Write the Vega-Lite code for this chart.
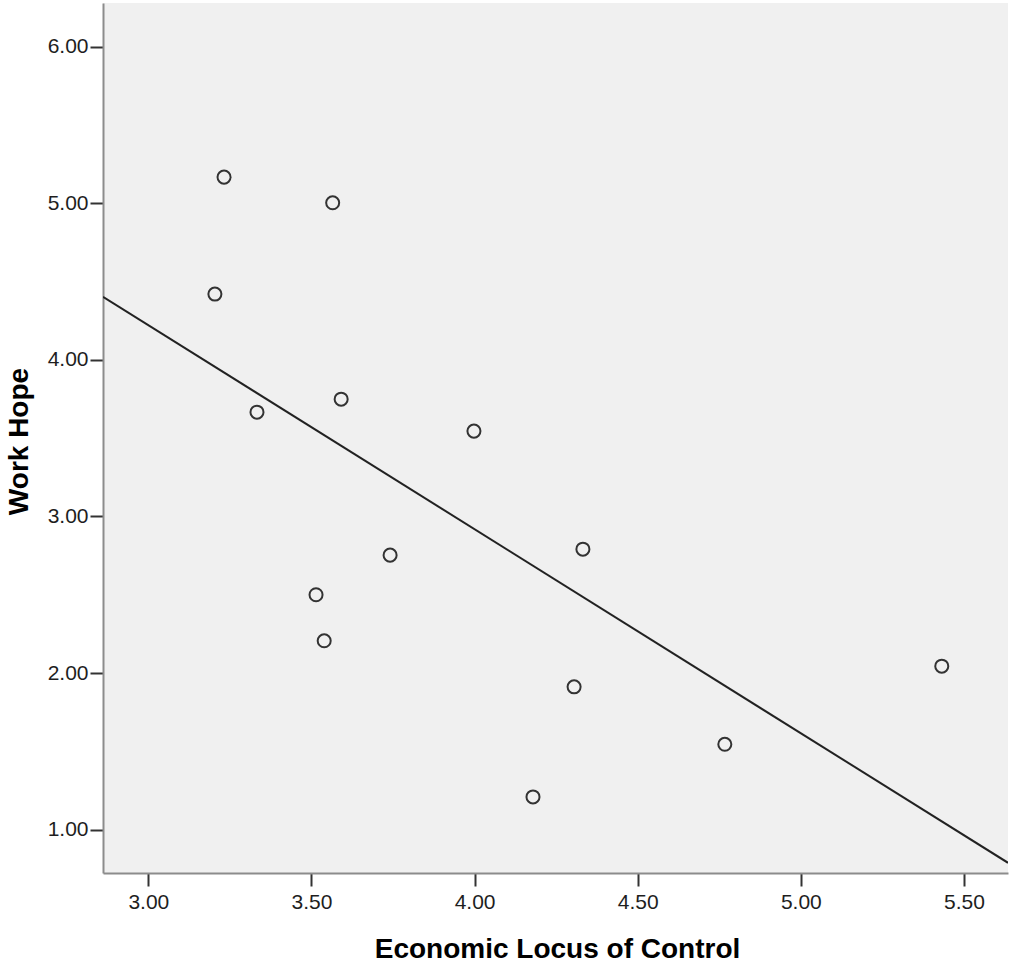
{
  "$schema": "https://vega.github.io/schema/vega-lite/v6.json",
  "autosize": "none",
  "width": 905,
  "height": 870,
  "padding": {"left": 103, "top": 3, "right": 2, "bottom": 93},
  "background": "#ffffff",
  "config": {
    "view": {"fill": "#f0f0f0", "stroke": null},
    "font": "Liberation Sans",
    "axis": {
      "grid": false,
      "domainColor": "#8c8c8c",
      "domainWidth": 2,
      "tickColor": "#333333",
      "tickWidth": 2,
      "tickSize": 13,
      "labelFont": "Liberation Sans",
      "labelFontSize": 21,
      "labelColor": "#1e1e1e",
      "titleFont": "Liberation Sans",
      "titleFontSize": 28,
      "titleFontWeight": "bold",
      "titleColor": "#000000"
    }
  },
  "data": {
    "values": [
      {"loc": 3.232, "hope": 5.167},
      {"loc": 3.565, "hope": 5.003},
      {"loc": 3.204, "hope": 4.420},
      {"loc": 3.333, "hope": 3.666},
      {"loc": 3.591, "hope": 3.749},
      {"loc": 3.998, "hope": 3.545},
      {"loc": 3.741, "hope": 2.753},
      {"loc": 4.332, "hope": 2.791},
      {"loc": 3.514, "hope": 2.500},
      {"loc": 3.539, "hope": 2.206},
      {"loc": 4.305, "hope": 1.912},
      {"loc": 4.179, "hope": 1.209},
      {"loc": 4.767, "hope": 1.545},
      {"loc": 5.432, "hope": 2.044}
    ]
  },
  "encoding": {
    "x": {
      "field": "loc",
      "type": "quantitative",
      "scale": {"domain": [2.861, 5.635], "nice": false, "zero": false},
      "axis": {
        "title": "Economic Locus of Control",
        "values": [3, 3.5, 4, 4.5, 5, 5.5],
        "format": ".2f",
        "labelPadding": 5,
        "titleX": 454,
        "titleY": 84,
        "titleBaseline": "alphabetic",
        "titleAnchor": "middle",
        "titleAlign": "center"
      }
    },
    "y": {
      "field": "hope",
      "type": "quantitative",
      "scale": {"domain": [0.723, 6.279], "nice": false, "zero": false},
      "axis": {
        "title": "Work Hope",
        "values": [1, 2, 3, 4, 5, 6],
        "format": ".2f",
        "labelPadding": 2,
        "titleX": -76,
        "titleY": 438,
        "titleAngle": -90,
        "titleBaseline": "alphabetic",
        "titleAlign": "center"
      }
    }
  },
  "layer": [
    {
      "mark": {"type": "point", "shape": "circle", "filled": false, "size": 170, "stroke": "#333333", "strokeWidth": 2, "opacity": 1}
    },
    {
      "transform": [{"regression": "hope", "on": "loc", "extent": [2.861, 5.635]}],
      "mark": {"type": "line", "color": "#222222", "strokeWidth": 2, "clip": true}
    }
  ]
}
